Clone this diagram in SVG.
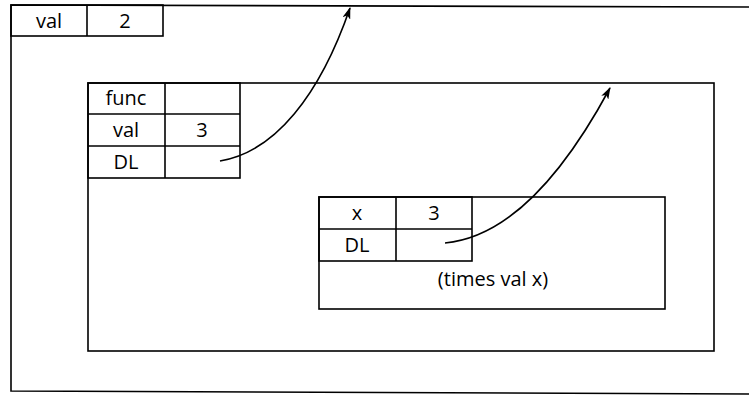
<svg xmlns="http://www.w3.org/2000/svg" width="749" height="396" viewBox="0 0 749 396">
<defs>
<style>
.box{fill:none;stroke:#000;stroke-width:1.6}
.ln{stroke:#000;stroke-width:1.6;fill:none}
text{font-family:"Open Sans","Liberation Sans",sans-serif;font-size:20px;fill:#000;text-anchor:middle;dominant-baseline:central}
.arrow{fill:none;stroke:#000;stroke-width:1.6;marker-end:url(#ah)}
</style>
<marker id="ah" viewBox="0 0 12 8" refX="11" refY="4" markerWidth="12" markerHeight="8" markerUnits="userSpaceOnUse" orient="auto">
<path d="M0,0 L12,4 L0,8 L3,4 Z" fill="#000"/>
</marker>
</defs>
<g id="global-env">
<path class="ln" d="M752,7 L11,5 L11,391 L752,394"/>
<rect class="box" x="11" y="5" width="152" height="31"/>
<line class="ln" x1="87" y1="5" x2="87" y2="36"/>
<text x="49" y="20">val</text>
<text x="125" y="20">2</text>
</g>
<g id="func-env">
<rect class="box" x="88" y="83" width="626" height="268"/>
<rect class="box" x="88" y="83" width="152" height="95"/>
<line class="ln" x1="165" y1="83" x2="165" y2="178"/>
<line class="ln" x1="88" y1="114" x2="240" y2="114"/>
<line class="ln" x1="88" y1="146" x2="240" y2="146"/>
<text x="126" y="97.5">func</text>
<text x="126" y="129">val</text>
<text x="202" y="129">3</text>
<text x="126" y="161">DL</text>
</g>
<g id="times-env">
<rect class="box" x="319" y="197" width="346" height="112"/>
<rect class="box" x="319" y="197" width="153" height="64"/>
<line class="ln" x1="396" y1="197" x2="396" y2="261"/>
<line class="ln" x1="319" y1="229" x2="472" y2="229"/>
<text x="357" y="212">x</text>
<text x="434" y="212">3</text>
<text x="357" y="244">DL</text>
<text x="493" y="278">(times val x)</text>
</g>
<g id="connectors">
<path class="arrow" d="M220,161 C275,152 320,95 350,8"/>
<path class="arrow" d="M445,243 C500,238 555,190 610,88"/>
</g>
</svg>
